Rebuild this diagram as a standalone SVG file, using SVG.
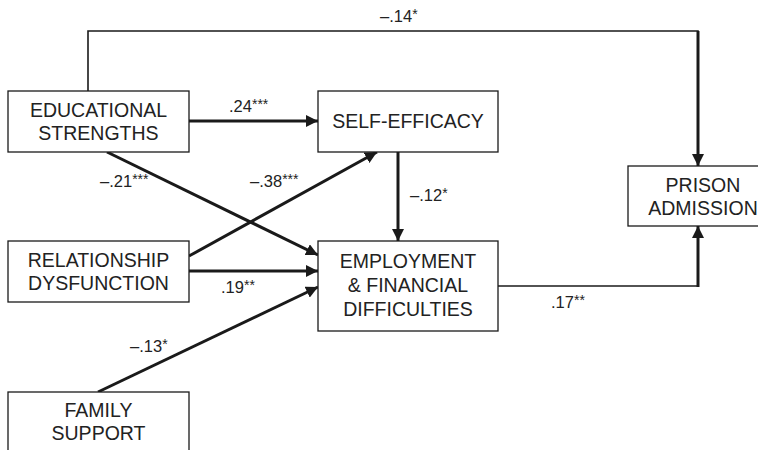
<svg xmlns="http://www.w3.org/2000/svg" width="758" height="450" viewBox="0 0 758 450">
<defs>
<marker id="ah" viewBox="0 0 10 10" refX="10" refY="5" markerWidth="4" markerHeight="4" orient="auto" markerUnits="strokeWidth">
<path d="M0,0 L10,5 L0,10 z" fill="#1a1a1a"/>
</marker>
<style>
.box{fill:#fff;stroke:#1a1a1a;stroke-width:1.3}
.nt{font-family:"Liberation Sans",Arial,sans-serif;font-size:19.5px;fill:#222;text-anchor:middle}
.lb{font-family:"Liberation Sans",Arial,sans-serif;font-size:16.5px;fill:#222}
.st{font-size:14px}
.thick{fill:none;stroke:#1a1a1a;stroke-width:3}
.thin{fill:none;stroke:#1a1a1a;stroke-width:1.6}
</style>
</defs>
<rect width="758" height="450" fill="#fff"/>
<g id="connectors">
<polyline class="thin" points="88,91 88,31 698,31 698,60"/>
<line class="thick" x1="698" y1="31" x2="698" y2="166" marker-end="url(#ah)"/>
<line class="thick" x1="189" y1="121" x2="318" y2="121" marker-end="url(#ah)"/>
<line class="thick" x1="107" y1="152" x2="318" y2="255" marker-end="url(#ah)"/>
<line class="thick" x1="189" y1="256" x2="377" y2="152" marker-end="url(#ah)"/>
<line class="thick" x1="189" y1="271" x2="318" y2="271" marker-end="url(#ah)"/>
<line class="thick" x1="98" y1="392" x2="318" y2="287" marker-end="url(#ah)"/>
<line class="thick" x1="398" y1="152" x2="398" y2="241" marker-end="url(#ah)"/>
<polyline class="thin" points="498,286 698,286"/>
<line class="thick" x1="698" y1="287" x2="698" y2="226" marker-end="url(#ah)"/>
<text class="lb" x="380" y="22">–.14<tspan class="st" dy="-3">*</tspan></text>
<text class="lb" x="229" y="112">.24<tspan class="st" dy="-3">***</tspan></text>
<text class="lb" x="100" y="187">–.21<tspan class="st" dy="-3">***</tspan></text>
<text class="lb" x="250" y="187">–.38<tspan class="st" dy="-3">***</tspan></text>
<text class="lb" x="410" y="201">–.12<tspan class="st" dy="-3">*</tspan></text>
<text class="lb" x="221" y="293">.19<tspan class="st" dy="-3">**</tspan></text>
<text class="lb" x="130" y="352">–.13<tspan class="st" dy="-3">*</tspan></text>
<text class="lb" x="551" y="308">.17<tspan class="st" dy="-3">**</tspan></text>
</g>
<g id="educational">
<rect class="box" x="8" y="91" width="181" height="61"/>
<text class="nt" x="98.5" y="117">EDUCATIONAL</text>
<text class="nt" x="98.5" y="140">STRENGTHS</text>
</g>
<g id="selfefficacy">
<rect class="box" x="318" y="91" width="180" height="61"/>
<text class="nt" x="408" y="128">SELF-EFFICACY</text>
</g>
<g id="relationship">
<rect class="box" x="8" y="241" width="181" height="61"/>
<text class="nt" x="98.5" y="267">RELATIONSHIP</text>
<text class="nt" x="98.5" y="290">DYSFUNCTION</text>
</g>
<g id="family">
<rect class="box" x="8" y="392" width="181" height="70"/>
<text class="nt" x="98.5" y="417">FAMILY</text>
<text class="nt" x="98.5" y="440">SUPPORT</text>
</g>
<g id="employment">
<rect class="box" x="318" y="241" width="180" height="90"/>
<text class="nt" x="408" y="268">EMPLOYMENT</text>
<text class="nt" x="408" y="292">&amp; FINANCIAL</text>
<text class="nt" x="408" y="316">DIFFICULTIES</text>
</g>
<g id="prison">
<rect class="box" x="628" y="166" width="150" height="60"/>
<text class="nt" x="703" y="192">PRISON</text>
<text class="nt" x="703" y="215">ADMISSION</text>
</g>
</svg>
